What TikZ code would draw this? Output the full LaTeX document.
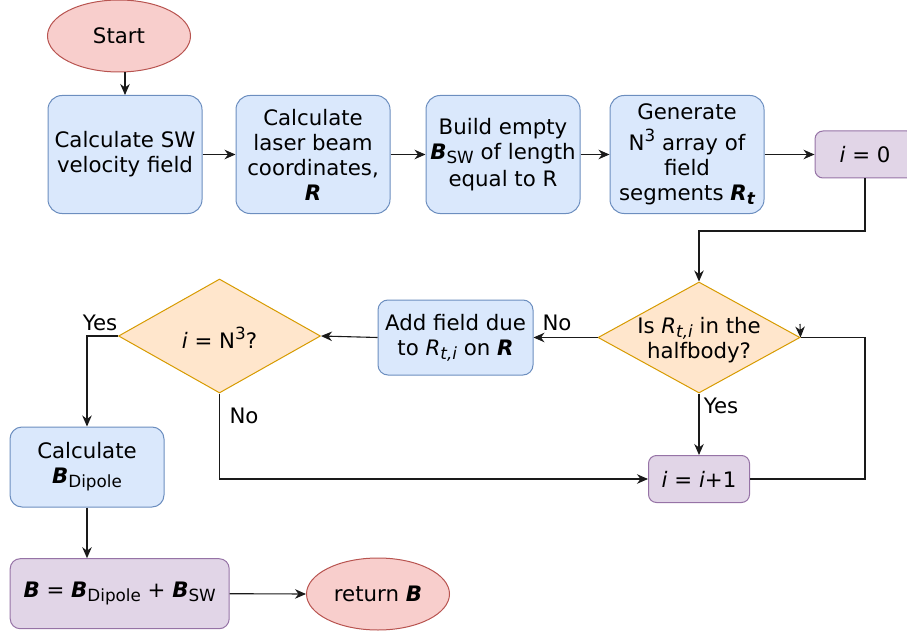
\documentclass[tikz,border=0pt]{standalone}
\usepackage{fontspec}
\setmainfont{DejaVu Sans}[ItalicFont={DejaVu Sans Oblique},BoldFont={DejaVu Sans Bold},BoldItalicFont={DejaVu Sans Bold Oblique}]
\usetikzlibrary{shapes.geometric,arrows.meta}
\definecolor{redfill}{HTML}{F8CECC}\definecolor{redline}{HTML}{B85450}
\definecolor{bluefill}{HTML}{DAE8FC}\definecolor{blueline}{HTML}{6C8EBF}
\definecolor{purpfill}{HTML}{E1D5E7}\definecolor{purpline}{HTML}{9673A6}
\definecolor{orfill}{HTML}{FFE6CC}\definecolor{orline}{HTML}{D79B00}
\definecolor{edgecol}{HTML}{1A1A1A}
\newcommand{\bv}[1]{\textbf{\textit{#1}}}
\newcommand{\sbx}[1]{\raisebox{-4pt}{\fontsize{16.8}{16.8}\selectfont #1}}
\newcommand{\spx}[1]{\raisebox{9pt}{\fontsize{16.8}{16.8}\selectfont #1}}
\tikzset{
  base/.style={inner sep=0pt, line width=1pt, align=center, font=\fontsize{21.3}{25}\selectfont},
  term/.style={base, ellipse, draw=redline, fill=redfill, minimum width=143pt, minimum height=72pt},
  proc/.style={base, rectangle, rounded corners=14pt, draw=blueline, fill=bluefill},
  cnt/.style={base, rectangle, rounded corners=8pt, draw=purpline, fill=purpfill},
  dec/.style={base, diamond, draw=orline, fill=orfill, minimum width=202pt},
  txt/.style={inner sep=0pt, align=center, font=\fontsize{21.3}{25}\selectfont},
  arr/.style={draw=edgecol, line width=1.1pt, -{Stealth[length=11pt,width=9.5pt,inset=3.5pt]}},
  ln/.style={draw=edgecol, line width=1.1pt}
}
\begin{document}
\begin{tikzpicture}[x=1pt,y=-1pt]
\useasboundingbox (0,0) rectangle (907,631);
\node[term] (start) at (119,36) {Start};
\node[proc, minimum width=154pt, minimum height=118pt] (b1) at (125,154.5) {Calculate SW\\velocity field};
\node[proc, minimum width=154pt, minimum height=118pt] (b2) at (313,154.5) {Calculate\\laser beam\\coordinates,\\\bv{R}};
\node[proc, minimum width=154pt, minimum height=118pt] (b3) at (503,154.5) {Build empty\\\bv{B}\sbx{SW} of length\\[2pt]equal to R};
\node[proc, minimum width=154pt, minimum height=118pt] (b4) at (687,154.5) {Generate\\[6pt]N\spx{3} array of\\field\\segments \bv{R\sbx{t}}};
\node[cnt, minimum width=100pt, minimum height=47pt] (i0) at (865,154.5) {\textit{i} = 0};
\node[dec, minimum height=111pt] (d1) at (699,337.5) {};
\node[txt] (d1t) at (699,340) {Is \textit{R}\sbx{\textit{t,i}} in the\\halfbody?};
\node[proc, rounded corners=10pt, minimum width=155pt, minimum height=75pt] (add) at (455.5,337.5) {Add field due\\to \textit{R}\sbx{\textit{t,i}} on \bv{R}};
\node[dec, minimum height=114pt] (d2) at (219.5,336) {};
\node[txt] (d2t) at (219.5,338) {\textit{i} = N\spx{3}?};
\node[cnt, minimum width=101pt, minimum height=47pt] (inc) at (699,479) {\textit{i} = \textit{i}+1};
\node[proc, rounded corners=12pt, minimum width=154pt, minimum height=80pt] (cd) at (87,467) {Calculate\\\bv{B}\sbx{Dipole}};
\node[cnt, rounded corners=10pt, minimum width=219pt, minimum height=70pt] (bsum) at (119.7,593.7) {\bv{B} = \bv{B}\sbx{Dipole} + \bv{B}\sbx{SW}};
\node[term] (ret) at (378,594) {return \bv{B}};
% labels
\node[txt] (lno1) at (557,323) {No};
\node[txt] (lyes1) at (721,406) {Yes};
\node[txt] (lyes2) at (100,323) {Yes};
\node[txt] (lno2) at (244,416) {No};
% connectors
\draw[arr] (b1.north |- start.south) -- (b1.north);
\draw[arr] (b1.east) -- (b2.west);
\draw[arr] (b2.east) -- (b3.west);
\draw[arr] (b3.east) -- (b4.west);
\draw[arr] (b4.east) -- (i0.west);
\coordinate (k1) at (865,231);
\draw[arr] (i0.south) -- (k1) -| (d1.north);
\draw[arr] (d1.west) -- (add.east);
\draw[arr] (add.west) -- (d2.east);
\draw[arr] (d2.west) -| (cd.north);
\draw[arr] (d2.south) |- (inc.west);
\draw[arr] (d1.south) -- (inc.north);
\coordinate (k2) at (865,479);
\draw[ln] (inc.east) -- (k2) |- (d1.east);
\coordinate (k3) at (800,324);
\draw[arr] (k3) -- (d1.east);
\draw[arr] (cd.south) -- (cd.south |- bsum.north);
\draw[arr] (bsum.east) -- (ret.west);
\end{tikzpicture}
\end{document}
